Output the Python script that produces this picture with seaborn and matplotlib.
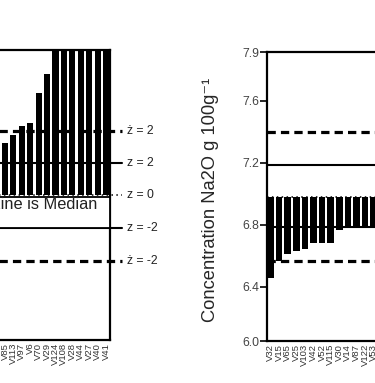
import matplotlib
matplotlib.use("Agg")
import matplotlib.pyplot as plt
import seaborn as sns
import pandas as pd
from matplotlib.patches import Rectangle

# === Data ===
# left panel (cut off on the left, no y tick labels visible)
left_names = ["V85", "V113", "V97", "V6", "V70", "V29", "V124",
              "V108", "V28", "V44", "V27", "V40", "V41"]
left_values = [2.289, 2.343, 2.402, 2.424, 2.620, 2.741, 3.00,
               3.05, 3.10, 3.20, 3.30, 3.40, 3.50]
left_median = 1.950
left_z2_dashed, left_z2_solid = 2.369, 2.160
left_zm2_solid, left_zm2_dashed = 1.734, 1.518

# right panel: Na2O
right_names = ["V32", "V15", "V65", "V25", "V103", "V42", "V52",
               "V115", "V30", "V14", "V87", "V122", "V53"]
right_values = [6.455, 6.566, 6.611, 6.630, 6.643, 6.682, 6.682,
                6.682, 6.766, 6.779, 6.779, 6.779, 6.790]
right_median = 6.98
right_z2_dashed, right_z2_solid = 7.40, 7.185
right_zm2_solid, right_zm2_dashed = 6.785, 6.566
right_ticks = [6.05, 6.4, 6.8, 7.2, 7.6, 7.914]
right_ticklabels = ["6.0", "6.4", "6.8", "7.2", "7.6", "7.9"]

sns.set_style("ticks")
plt.rcParams["font.family"] = ["Liberation Sans", "DejaVu Sans"]

W, H = 375, 383
def px_box(l, r, t, b):
    return [l / W, 1 - b / H, (r - l) / W, (b - t) / H]

fig = plt.figure(figsize=(W / 100, H / 100), dpi=100)
ax1 = fig.add_axes(px_box(-62.4, 110, 50, 340))
ax2 = fig.add_axes(px_box(267, 442.5, 52, 341))

DASH = dict(color="black", lw=2.3, dashes=(2.6, 1.6))
SOLID = dict(color="black", lw=1.5)
DOT = dict(color="black", lw=1.1, dashes=(1, 2.2))

# --- left panel ---
df1 = pd.DataFrame({"name": left_names,
                    "diff": [v - left_median for v in left_values]})
sns.barplot(data=df1, x="name", y="diff", bottom=left_median, color="black",
            saturation=1, width=0.72, errorbar=None, linewidth=0, ax=ax1, zorder=3)
ax1.set_xlim(-8, 12.475)
ax1.set_ylim(1.0, 2.9)
x_end = 13.85
for yv, st, lab in [(left_z2_dashed, DASH, "ż = 2"), (left_z2_solid, SOLID, "z = 2"),
                    (left_median, DOT, "z = 0"), (left_zm2_solid, SOLID, "z = -2"),
                    (left_zm2_dashed, DASH, "ż = -2")]:
    ax1.plot([-8, x_end], [yv, yv], clip_on=False, zorder=2, **st)
    ax1.text(14.45, yv, lab, fontsize=8.8, va="center", ha="left", color="#222222")
ax1.add_patch(Rectangle((-8, left_zm2_solid), 20.475, 1.939 - left_zm2_solid,
                        facecolor="white", edgecolor="black", lw=1.3, zorder=4))
ax1.text(10.93, 1.89, "Dotted Line is Median", fontsize=11.8, ha="right",
         va="center", color="#222222", zorder=5)

# --- right panel ---
df2 = pd.DataFrame({"name": right_names,
                    "diff": [v - right_median for v in right_values]})
sns.barplot(data=df2, x="name", y="diff", bottom=right_median, color="black",
            saturation=1, width=0.75, errorbar=None, linewidth=0, ax=ax2, zorder=3)
ax2.set_xlim(-0.41, 20)
ax2.set_ylim(6.05, 7.914)
for yv, st in [(right_z2_dashed, DASH), (right_z2_solid, SOLID), (right_median, DOT),
               (right_zm2_solid, SOLID), (right_zm2_dashed, DASH)]:
    ax2.axhline(yv, zorder=2, **st)
ax2.set_yticks(right_ticks)
ax2.set_yticklabels(right_ticklabels)
ax2.set_ylabel("Concentration Na2O g 100g⁻¹", fontsize=13.2)
ax2.yaxis.set_label_coords(-48 / 175.5, 0.49)

for ax in (ax1, ax2):
    ax.set_xlabel("")
    for s in ax.spines.values():
        s.set_visible(True)
        s.set_linewidth(1.6)
        s.set_color("black")
    ax.tick_params(axis="x", length=0, pad=2, labelrotation=90, labelsize=6.8,
                   labelcolor="#333333")
    ax.tick_params(axis="y", length=5, width=1.4, pad=0.5, labelsize=8.8,
                   labelcolor="#444444")
ax1.set_ylabel("")
ax1.set_yticks([])

fig.savefig("out.png", dpi=100)
